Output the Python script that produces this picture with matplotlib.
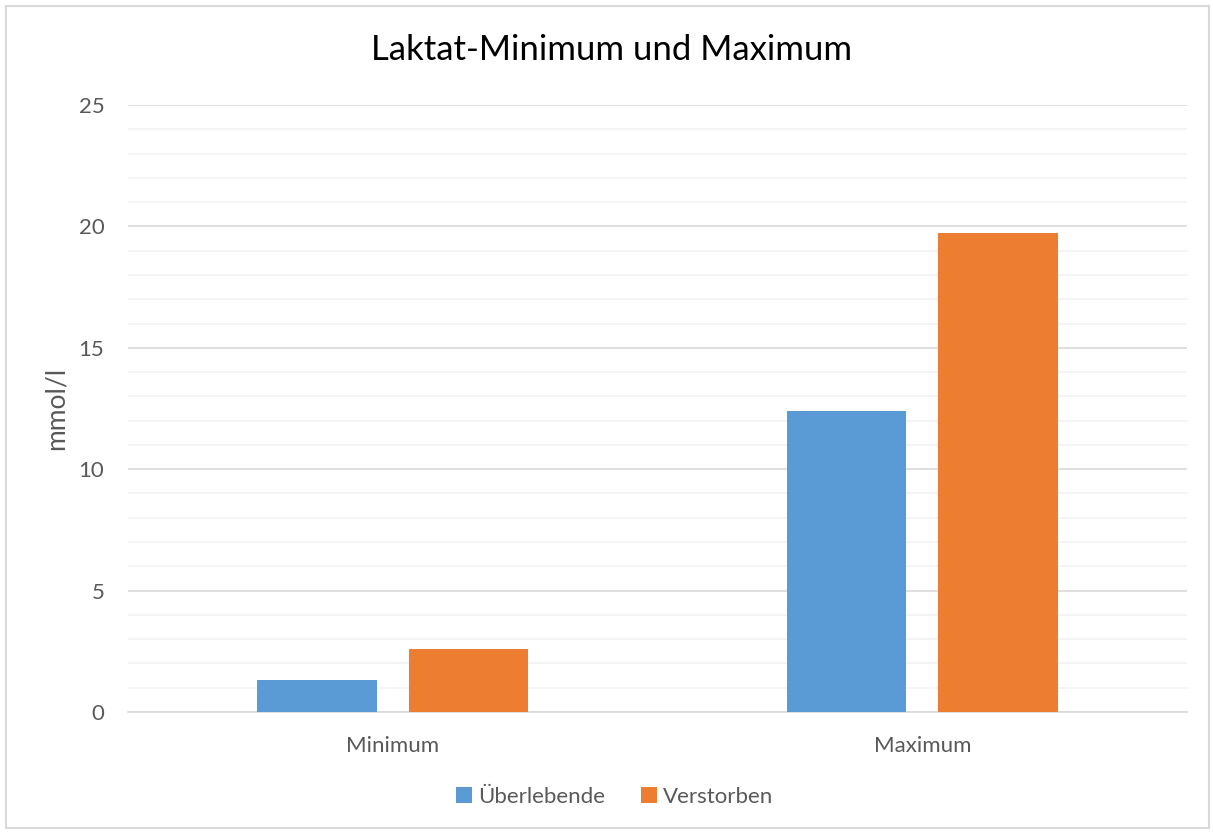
import matplotlib.pyplot as plt
import numpy as np
from matplotlib.patches import Rectangle

# Laktat values (mmol/l)
categories = ['Minimum', 'Maximum']
ueberlebende = [1.32, 12.41]
verstorben = [2.59, 19.72]

plt.rcParams['font.family'] = ['Lato', 'DejaVu Sans']

blue = '#5b9bd5'
orange = '#ed7d31'
text_col = '#595959'

fig = plt.figure(figsize=(12.13, 8.32), dpi=100)
ax = fig.add_axes([128 / 1213, 1 - 712 / 832, 1059 / 1213, 607 / 832])

# light frame around the whole chart
fig.patches.append(Rectangle((6 / 1213, 4 / 832), 1203 / 1213, 822 / 832,
                             transform=fig.transFigure, fill=False,
                             edgecolor='#d9d9d9', linewidth=1.5))

x = np.arange(len(categories))
w = 0.225
off = 0.143
ax.bar(x - off, ueberlebende, w, color=blue, label='Überlebende', zorder=3)
ax.bar(x + off, verstorben, w, color=orange, label='Verstorben', zorder=3)

ax.set_xlim(-0.5, 1.5)
ax.set_ylim(0, 25)
ax.set_yticks(np.arange(0, 26, 5))
ax.set_yticks(np.arange(0, 26, 1), minor=True)
ax.grid(axis='y', which='major', color='#d9d9d9', linewidth=1.2, zorder=0)
ax.grid(axis='y', which='minor', color='#f2f2f2', linewidth=1.2, zorder=0)
ax.set_axisbelow(True)

for s in ['top', 'right', 'left']:
    ax.spines[s].set_visible(False)
ax.spines['bottom'].set_color('#d9d9d9')
ax.spines['bottom'].set_linewidth(1.2)

ax.set_xticks(x)
ax.set_xticklabels(categories)
ax.tick_params(axis='both', which='both', length=0, labelsize=16, colors=text_col)
ax.tick_params(axis='y', pad=17)
ax.tick_params(axis='x', pad=17)

ax.set_ylabel('mmol/l', fontsize=19, color=text_col, labelpad=7)
fig.text(612 / 1213, 1 - 50 / 832, 'Laktat-Minimum und Maximum', ha='center',
         va='center', fontsize=25, color='#000000')

fig.legend(loc='center', bbox_to_anchor=(615 / 1213, 1 - 797 / 832), ncol=2,
           frameon=False, fontsize=16, handlelength=0.7, handleheight=0.7,
           handletextpad=0.3, columnspacing=1.6, labelcolor=text_col)

fig.savefig('out.png', dpi=100)
